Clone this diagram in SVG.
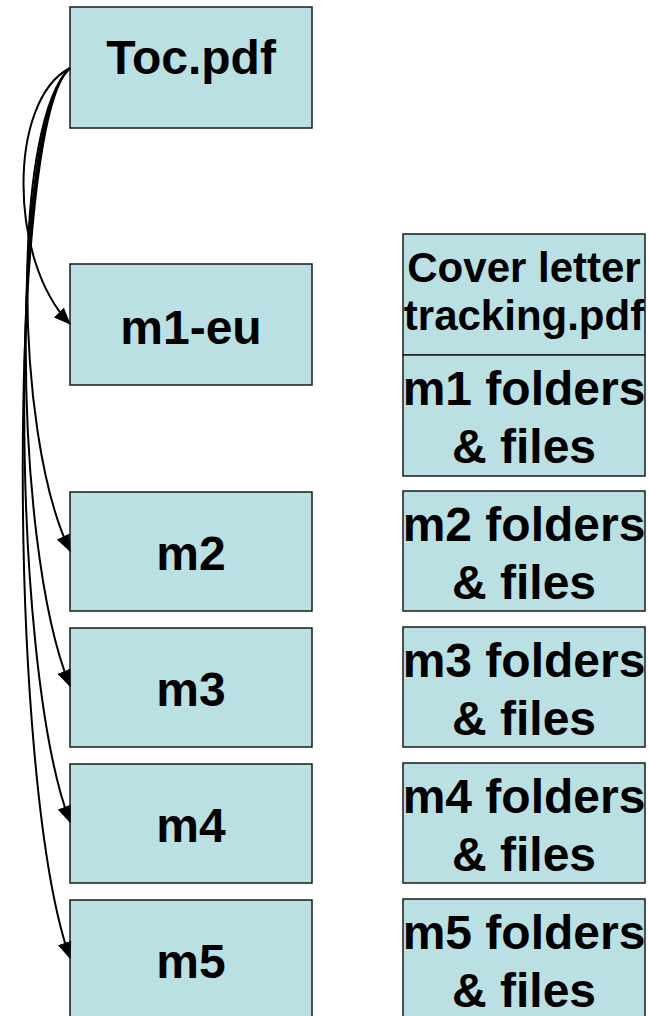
<svg xmlns="http://www.w3.org/2000/svg" width="649" height="1016" viewBox="0 0 649 1016">
<defs>
<style>
.box{fill:#BBE0E3;stroke:#1a1a1a;stroke-width:1.5}
.t{font-family:"Liberation Sans",Arial,sans-serif;font-weight:bold;font-size:48px;fill:#000;text-anchor:middle}
.s{font-size:42px}
.c{fill:none;stroke:#000;stroke-width:2}
</style>
<marker id="ah" viewBox="0 0 17 14" refX="16" refY="7" markerWidth="17" markerHeight="14" markerUnits="userSpaceOnUse" orient="auto">
<path d="M0,0 L17,7 L0,14 z" fill="#000"/>
</marker>
</defs>
<rect width="649" height="1016" fill="#fff"/>
<g id="toc"><rect class="box" x="70" y="7" width="242" height="121"/><text class="t" x="191" y="74">Toc.pdf</text></g>
<g id="m1eu"><rect class="box" x="70" y="264" width="242" height="121"/><text class="t" x="191" y="344">m1-eu</text></g>
<g id="m2"><rect class="box" x="70" y="492" width="242" height="119"/><text class="t" x="191" y="570">m2</text></g>
<g id="m3"><rect class="box" x="70" y="628" width="242" height="119"/><text class="t" x="191" y="706">m3</text></g>
<g id="m4"><rect class="box" x="70" y="764" width="242" height="119"/><text class="t" x="191" y="842">m4</text></g>
<g id="m5"><rect class="box" x="70" y="900" width="242" height="125"/><text class="t" x="191" y="978">m5</text></g>
<g id="cover"><rect class="box" x="403" y="234" width="242" height="121"/><text class="t s" x="524" y="282">Cover letter</text><text class="t s" x="524" y="330">tracking.pdf</text></g>
<g id="m1f"><rect class="box" x="403" y="355" width="242" height="121"/><text class="t" x="524" y="405">m1 folders</text><text class="t" x="524" y="463">&amp; files</text></g>
<g id="m2f"><rect class="box" x="403" y="491" width="242" height="120"/><text class="t" x="524" y="541">m2 folders</text><text class="t" x="524" y="599">&amp; files</text></g>
<g id="m3f"><rect class="box" x="403" y="627" width="242" height="120"/><text class="t" x="524" y="677">m3 folders</text><text class="t" x="524" y="735">&amp; files</text></g>
<g id="m4f"><rect class="box" x="403" y="763" width="242" height="120"/><text class="t" x="524" y="813">m4 folders</text><text class="t" x="524" y="871">&amp; files</text></g>
<g id="m5f"><rect class="box" x="403" y="899" width="242" height="125"/><text class="t" x="524" y="949">m5 folders</text><text class="t" x="524" y="1007">&amp; files</text></g>
<g id="connectors">
<path class="c" marker-end="url(#ah)" d="M70,68 C8,100 8,260 70,324"/>
<path class="c" marker-end="url(#ah)" d="M70,68 C14,120 12,430 70,551"/>
<path class="c" marker-end="url(#ah)" d="M70,68 C12,120 10,540 70,686"/>
<path class="c" marker-end="url(#ah)" d="M70,68 C10,120 8,660 70,822"/>
<path class="c" marker-end="url(#ah)" d="M70,68 C8,120 6,780 70,958"/>
</g>
</svg>
